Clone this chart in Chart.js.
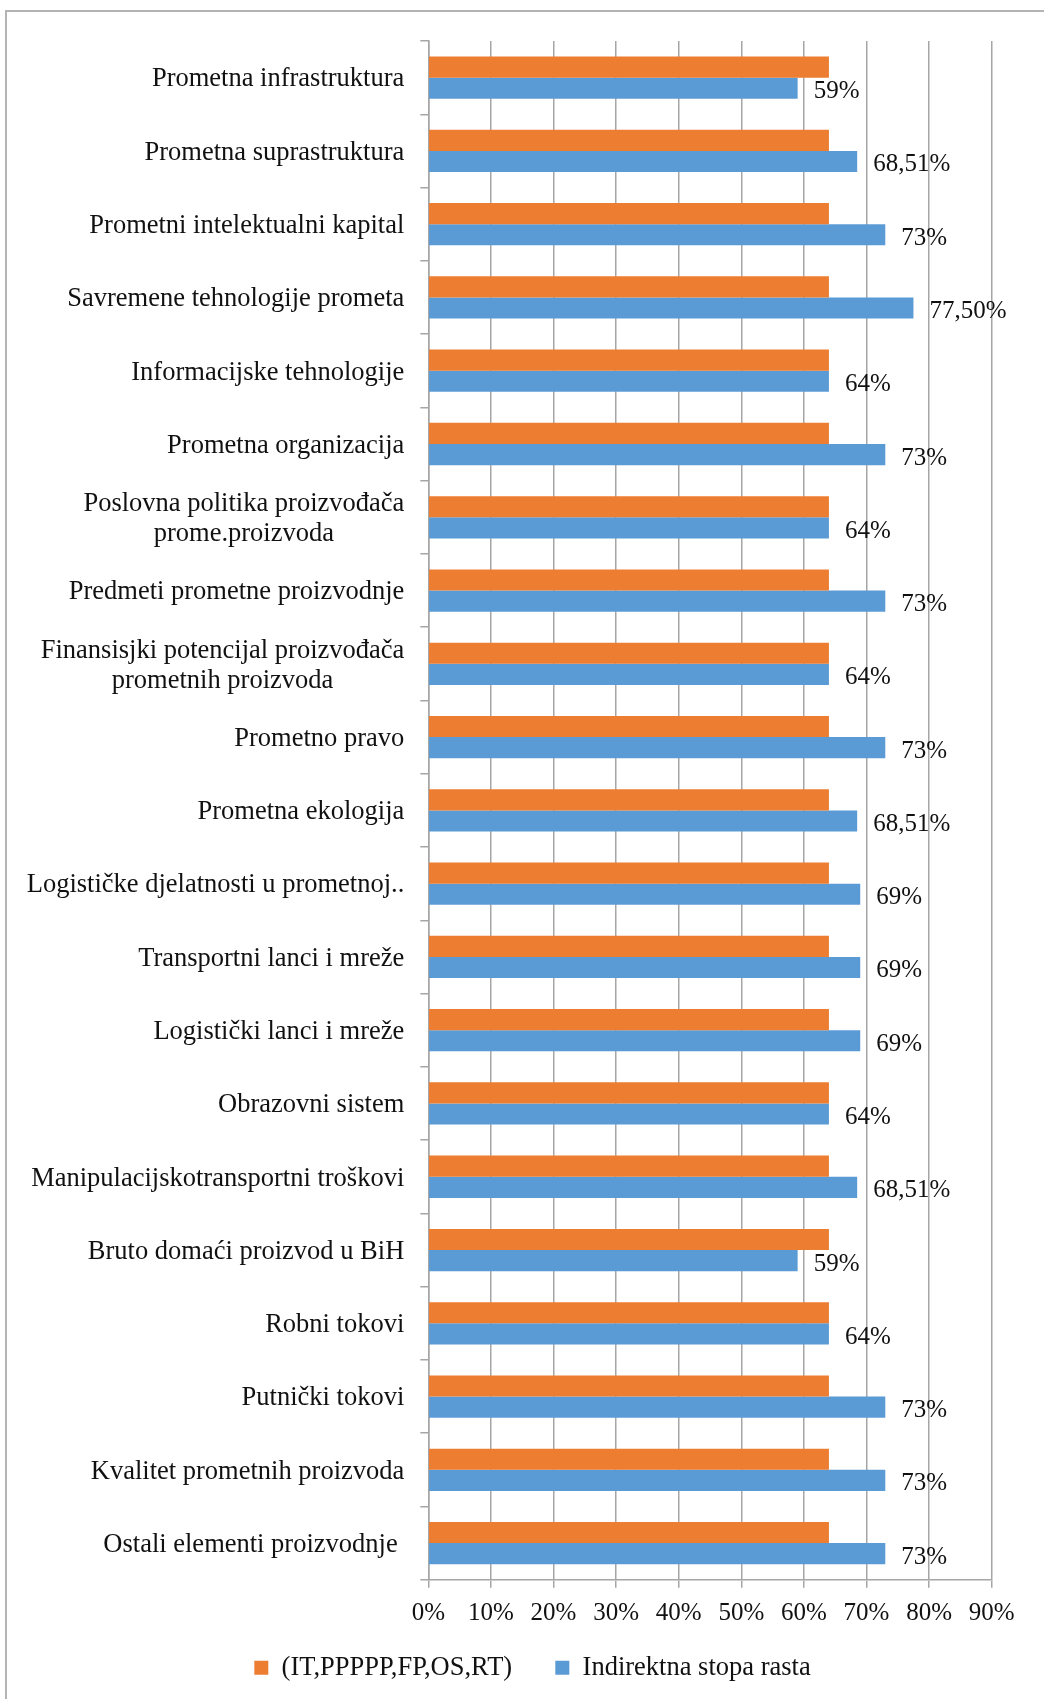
<!DOCTYPE html>
<html>
<head>
<meta charset="utf-8">
<title>Stopa rasta</title>
<script src="https://cdn.jsdelivr.net/npm/chart.js@4/dist/chart.umd.min.js"></script>
<style>
    html, body {
        margin: 0;
        padding: 0;
        overflow: hidden;
        background: #fff;
    }
    #okvir {
        position: absolute;
        left: 5px;
        top: 10px;
        border: 2px solid #b4b4b4;
    }
    #grafik-wrap {
        position: relative;
        width: 1050px;
        height: 1710px;
    }
</style>
</head>
<body>
<div id="okvir">
    <div id="grafik-wrap">
        <canvas id="stopaRastaGrafik"></canvas>
    </div>
</div>
<script>
const kategorije = [
    'Prometna infrastruktura',
    'Prometna suprastruktura',
    'Prometni intelektualni kapital',
    'Savremene tehnologije prometa',
    'Informacijske tehnologije',
    'Prometna organizacija',
    ['Poslovna politika proizvođača', 'prome.proizvoda'],
    'Predmeti prometne proizvodnje',
    ['Finansisjki potencijal proizvođača', 'prometnih proizvoda'],
    'Prometno pravo',
    'Prometna ekologija',
    'Logističke djelatnosti u prometnoj..',
    'Transportni lanci i mreže',
    'Logistički lanci i mreže',
    'Obrazovni sistem',
    'Manipulacijskotransportni troškovi',
    'Bruto domaći proizvod u BiH',
    'Robni tokovi',
    'Putnički tokovi',
    'Kvalitet prometnih proizvoda',
    'Ostali elementi proizvodnje '
];

const nazivIT = '(IT,PPPPP,FP,OS,RT)';
const nazivIndirektna = 'Indirektna stopa rasta';

const vrijednostiIT = [64, 64, 64, 64, 64, 64, 64, 64, 64, 64, 64, 64, 64, 64, 64, 64, 64, 64, 64, 64, 64];
const indirektnaStopa = [59, 68.51, 73, 77.5, 64, 73, 64, 73, 64, 73, 68.51, 69, 69, 69, 64, 68.51, 59, 64, 73, 73, 73];

const oznakeX = ['0%', '10%', '20%', '30%', '40%', '50%', '60%', '70%', '80%', '90%'];

const narandzasta = '#ed7d31';
const plava = '#5b9bd5';
const sivaLinija = '#a6a6a6';
const font = '"Liberation Serif", "Times New Roman", serif';

window.onload = function() {
    renderizirajGrafik();
}

function formatPostotak(v) {
    if (Number.isInteger(v)) {
        return v + '%';
    }
    return v.toFixed(2).replace('.', ',') + '%';
}

// vrijednosti ispisane desno od plavih traka
const oznakeVrijednosti = {
    id: 'oznakeVrijednosti',
    afterDatasetsDraw(chart) {
        var ctx = chart.ctx;
        var meta = chart.getDatasetMeta(1);
        ctx.save();
        ctx.font = '25px ' + font;
        ctx.fillStyle = '#111';
        ctx.textAlign = 'left';
        ctx.textBaseline = 'alphabetic';
        meta.data.forEach((traka, i) => {
            ctx.fillText(formatPostotak(indirektnaStopa[i]), traka.x + 16, traka.y + 10);
        });
        ctx.restore();
    }
};

// nazivi kategorija: blok poravnat desno, redovi unutar bloka centrirani
const naziviKategorija = {
    id: 'naziviKategorija',
    afterDraw(chart) {
        var ctx = chart.ctx;
        var osa = chart.scales.y;
        var desno = osa.right - 8 - 16;
        var visinaReda = 30;
        ctx.save();
        ctx.font = '26.5px ' + font;
        ctx.fillStyle = '#111';
        ctx.textAlign = 'center';
        ctx.textBaseline = 'alphabetic';
        kategorije.forEach((naziv, i) => {
            var redovi = Array.isArray(naziv) ? naziv : [naziv];
            var sirina = Math.max(...redovi.map((r) => ctx.measureText(r).width));
            var sredina = osa.getPixelForValue(i);
            var pocetak = sredina - (redovi.length - 1) * visinaReda / 2;
            redovi.forEach((red, j) => {
                ctx.fillText(red, desno - sirina / 2, pocetak + j * visinaReda + 8.8);
            });
        });
        ctx.restore();
    }
};

function renderizirajGrafik() {
    var barChartData = {
        labels: kategorije,
        datasets: [{
            label: nazivIT,
            data: vrijednostiIT,
            backgroundColor: narandzasta,
            categoryPercentage: 0.577,
            barPercentage: 1
        }, {
            label: nazivIndirektna,
            data: indirektnaStopa,
            backgroundColor: plava,
            categoryPercentage: 0.577,
            barPercentage: 1
        }]
    };

    var canvas = document.getElementById('stopaRastaGrafik');
    var ctx = canvas.getContext('2d');
    window.myBar = new Chart(ctx, {
        type: 'bar',
        data: barChartData,
        plugins: [oznakeVrijednosti, naziviKategorija],
        options: {
            indexAxis: 'y',
            responsive: true,
            maintainAspectRatio: false,
            animation: false,
            layout: {
                padding: { left: 66.3, right: 65.3, top: 29, bottom: 31 }
            },
            scales: {
                x: {
                    min: 0,
                    max: 90,
                    ticks: {
                        stepSize: 10,
                        padding: 11,
                        color: '#111',
                        font: { family: font, size: 25 },
                        callback: (v, i) => oznakeX[i]
                    },
                    grid: {
                        color: sivaLinija,
                        lineWidth: 1.5,
                        tickLength: 8
                    },
                    border: { color: sivaLinija, width: 1.5 },
                    afterFit: (osa) => { osa.height = 64.75; }
                },
                y: {
                    ticks: { display: false },
                    grid: {
                        offset: true,
                        drawOnChartArea: false,
                        color: sivaLinija,
                        lineWidth: 1.5,
                        tickLength: 8
                    },
                    border: { color: sivaLinija, width: 1.5 },
                    afterFit: (osa) => { osa.width = 355; }
                }
            },
            plugins: {
                legend: {
                    position: 'bottom',
                    labels: {
                        boxWidth: 14,
                        boxHeight: 14,
                        padding: 10,
                        color: '#111',
                        font: { family: font, size: 26.5 },
                        // razmak izmedju dvije stavke legende
                        generateLabels: (chart) => {
                            var stavke = Chart.defaults.plugins.legend.labels.generateLabels(chart);
                            stavke[0].text += '     ';
                            return stavke;
                        }
                    }
                },
                title: { display: false },
                tooltip: { enabled: false }
            }
        }
    });
}
</script>
</body>
</html>
